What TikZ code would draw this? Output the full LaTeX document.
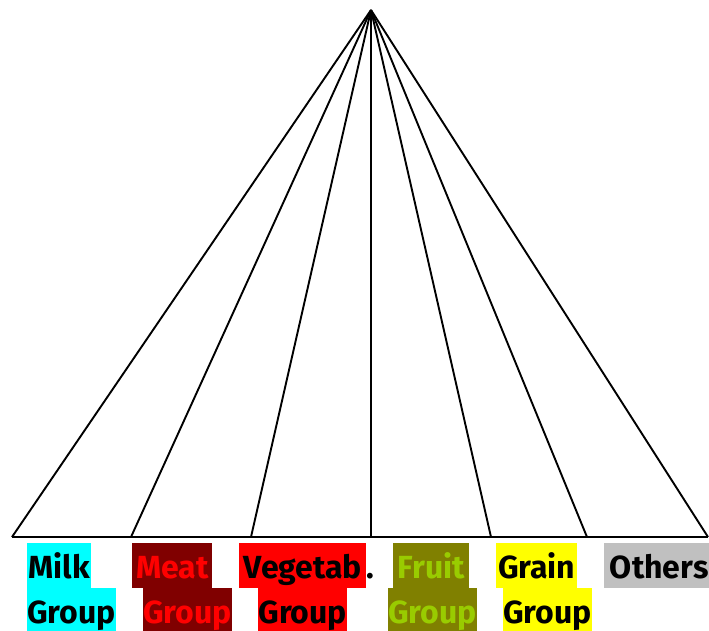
\documentclass[tikz,border=0pt]{standalone}
\usepackage{fontspec}
\setmainfont{Fira Sans}
\definecolor{cmilk}{HTML}{00FFFF}
\definecolor{cmeat}{HTML}{800000}
\definecolor{cred}{HTML}{FF0000}
\definecolor{colive}{HTML}{808000}
\definecolor{cfruit}{HTML}{99CC00}
\definecolor{cyel}{HTML}{FFFF00}
\definecolor{cgray}{HTML}{C0C0C0}
\begin{document}
\begin{tikzpicture}[x=1pt,y=-1pt,
  edge/.style={draw=black,line width=1.9pt},
  lbl/.style={inner sep=0pt,text height=35pt,text depth=10pt,anchor=north west,
    font=\fontsize{32}{32}\selectfont\bfseries,align=center}]
\useasboundingbox (0,0) rectangle (709,630);
\coordinate (apex) at (371,10);
\coordinate (b1) at (12,537);
\coordinate (b2) at (131,537);
\coordinate (b3) at (251,537);
\coordinate (b4) at (371,537);
\coordinate (b5) at (491,537);
\coordinate (b6) at (587,537);
\coordinate (b7) at (708,537);
\foreach \b in {b1,b2,b3,b4,b5,b6,b7} \draw[edge,line join=miter] (apex) -- (\b);
\draw[edge] (b1) -- (b7);
% labels
\node[lbl,fill=cmilk,minimum width=64pt] (milk1) at (27,543) {Milk};
\node[lbl,fill=cmilk,minimum width=88pt] (milk2) at (27,588) {Group};
\node[lbl,fill=cmeat,text=cred,minimum width=80pt] (meat1) at (132,543) {Meat};
\node[lbl,fill=cmeat,text=cred,minimum width=88pt] (meat2) at (143,588) {Group};
\node[lbl,fill=cred,minimum width=127pt] (veg1) at (239,543) {Vegetab};
\node[lbl,anchor=north west] (dot) at (366,543) {.};
\node[lbl,fill=cred,minimum width=89pt] (veg2) at (258,588) {Group};
\node[lbl,fill=colive,text=cfruit,minimum width=76pt] (fruit1) at (393,543) {Fruit};
\node[lbl,fill=colive,text=cfruit,minimum width=88pt] (fruit2) at (388,588) {Group};
\node[lbl,fill=cyel,minimum width=81pt] (grain1) at (496,543) {Grain};
\node[lbl,fill=cyel,minimum width=88pt] (grain2) at (503,588) {Group};
\node[lbl,fill=cgray,minimum width=110pt] (others) at (604,543) {Others};
\end{tikzpicture}
\end{document}
